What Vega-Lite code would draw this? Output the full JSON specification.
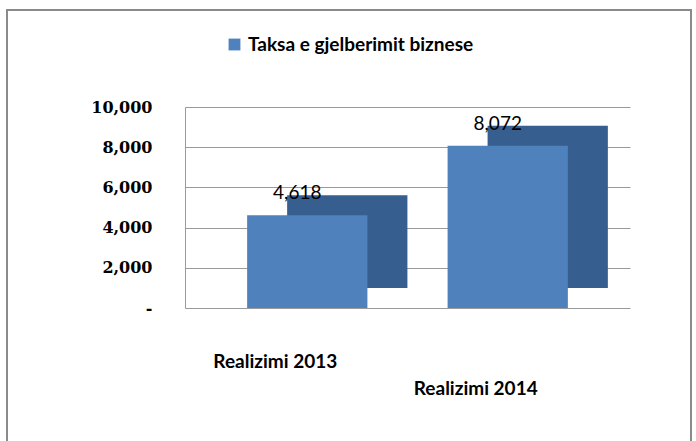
{
  "$schema": "https://vega.github.io/schema/vega-lite/v6.json",
  "width": 684,
  "height": 440,
  "autosize": {"type": "none"},
  "padding": {"left": 7, "top": 10, "right": 5, "bottom": 0},
  "background": "white",
  "data": {"values": [
    {"cat": "Realizimi 2013", "series": "Taksa e gjelberimit biznese", "value": 4618},
    {"cat": "Realizimi 2014", "series": "Taksa e gjelberimit biznese", "value": 8072}
  ]},
  "encoding": {
    "x": {"field": "cat", "type": "nominal", "sort": null,
      "scale": {"paddingInner": 0.4, "paddingOuter": 0.31, "range": [178, 623]},
      "axis": {"title": null, "labelAngle": 0, "domain": false, "ticks": false, "offset": -142, "labelPadding": 44,
        "labelFont": "Lato", "labelFontWeight": "bold", "labelFontSize": 19, "labelColor": "#000000", "labelLimit": 400,
        "labelOffset": -32, "labelLineHeight": 27,
        "labelExpr": "datum.value == 'Realizimi 2014' ? ['', datum.value] : datum.value"}},
    "y": {"field": "value", "type": "quantitative",
      "scale": {"domain": [0, 10000], "range": [298, 97]},
      "axis": {"title": null, "values": [0, 2000, 4000, 6000, 8000, 10000], "ticks": false, "domain": true, "offset": -178,
        "domainColor": "#9a9a9a", "gridColor": "#9a9a9a", "gridWidth": 1.2, "labelPadding": 33,
        "labelFont": "DejaVu Serif", "labelFontWeight": "bold", "labelFontSize": 16, "labelColor": "#000000",
        "labelExpr": "datum.value == 0 ? '-' : format(datum.value, ',')"}}
  },
  "layer": [
    {"mark": {"type": "bar", "color": "#365E8E", "xOffset": 40, "yOffset": -20}},
    {"mark": {"type": "bar"},
      "encoding": {"color": {"field": "series", "type": "nominal",
        "scale": {"range": ["#4F81BD"]},
        "legend": {"title": null, "orient": "none", "legendX": 218, "legendY": 25, "symbolType": "square",
          "symbolSize": 140, "symbolStrokeWidth": 0, "labelFont": "Lato", "labelFontWeight": "bold",
          "labelFontSize": 19, "labelColor": "#000000", "labelLimit": 500, "labelOffset": 4}}}},
    {"mark": {"type": "text", "dy": -22, "dx": -10, "font": "Lato", "fontSize": 19, "color": "#000000"},
      "encoding": {"text": {"field": "value", "type": "quantitative", "format": ","}}}
  ],
  "config": {"view": {"stroke": "#8a8a8a", "strokeWidth": 2}}
}
